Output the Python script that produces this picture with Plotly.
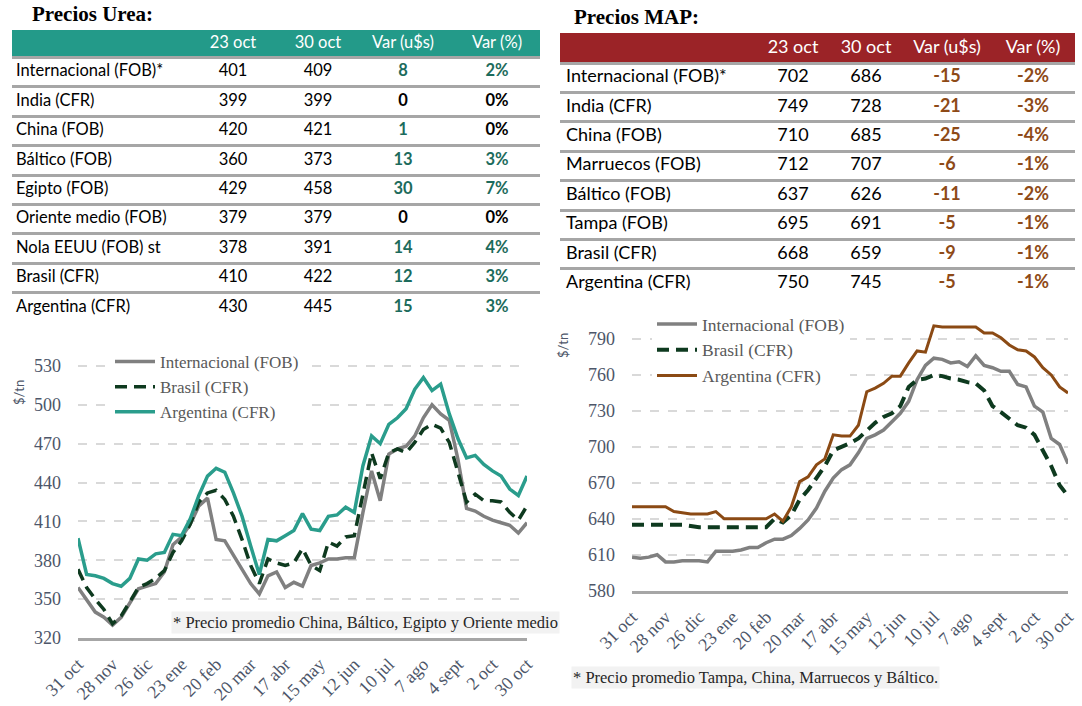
import plotly.graph_objects as go

W, H = 1082, 706

# ---------------- DATA ----------------
cols_hdr = ["23 oct", "30 oct", "Var (u$s)", "Var (%)"]

urea_names = ["Internacional (FOB)*", "India (CFR)", "China (FOB)", "Báltico (FOB)", "Egipto (FOB)",
              "Oriente medio (FOB)", "Nola EEUU (FOB) st", "Brasil (CFR)", "Argentina (CFR)"]
urea_23 = [401, 399, 420, 360, 429, 379, 378, 410, 430]
urea_30 = [409, 399, 421, 373, 458, 379, 391, 422, 445]
urea_var = [8, 0, 1, 13, 30, 0, 14, 12, 15]
urea_pct = [2, 0, 0, 3, 7, 0, 4, 3, 3]

map_names = ["Internacional (FOB)*", "India (CFR)", "China (FOB)", "Marruecos (FOB)", "Báltico (FOB)",
             "Tampa (FOB)", "Brasil (CFR)", "Argentina (CFR)"]
map_23 = [702, 749, 710, 712, 637, 695, 668, 750]
map_30 = [686, 728, 685, 707, 626, 691, 659, 745]
map_var = [-15, -21, -25, -6, -11, -5, -9, -5]
map_pct = [-2, -3, -4, -1, -2, -1, -1, -1]

tick_labels = ["31 oct", "28 nov", "26 dic", "23 ene", "20 feb", "20 mar", "17 abr", "15 may",
               "12 jun", "10 jul", "7 ago", "4 sept", "2 oct", "30 oct"]
weeks = list(range(53))

urea_int = [359, 350, 340, 336, 330, 336, 347, 358, 360, 362, 371, 392, 398, 408, 422, 428,
            396, 395, 384, 373, 362, 354, 368, 371, 359, 363, 360, 376, 378, 381, 381, 382,
            382, 417, 449, 426, 462, 466, 468, 476, 490, 500, 493, 488, 458, 420, 418, 414,
            411, 409, 407, 401, 409]
urea_bra = [373, 359, 350, 342, 331, 337, 348, 359, 362, 366, 372, 386, 395, 408, 425, 432,
            434, 427, 414, 396, 376, 362, 381, 378, 376, 378, 389, 376, 372, 394, 391, 398,
            399, 432, 463, 443, 463, 466, 463, 471, 481, 485, 482, 471, 448, 425, 431, 426,
            426, 425, 417, 411, 422]
urea_arg = [397, 369, 368, 366, 362, 360, 366, 381, 380, 385, 386, 400, 399, 412, 430, 445,
            451, 448, 432, 414, 391, 369, 396, 395, 399, 403, 416, 404, 403, 414, 415, 421,
            417, 453, 476, 470, 485, 490, 497, 512, 521, 511, 516, 493, 474, 459, 461, 454,
            449, 445, 435, 430, 445]

map_int = [608, 607, 608, 610, 604, 604, 605, 605, 605, 604, 613, 613, 613, 614, 616, 616,
           620, 623, 623, 626, 632, 639, 649, 663, 674, 681, 685, 695, 707, 710, 714, 721,
           728, 738, 756, 768, 774, 773, 770, 771, 767, 776, 768, 766, 763, 763, 752, 750,
           734, 729, 707, 702, 686]
map_bra = [635, 635, 635, 635, 635, 635, 635, 634, 633, 633, 633, 633, 633, 633, 633, 633,
           633, 640, 637, 643, 656, 664, 674, 684, 697, 700, 703, 707, 714, 720, 725, 728,
           734, 750, 756, 757, 760, 759, 757, 756, 754, 753, 747, 734, 729, 724, 718, 716,
           710, 697, 684, 668, 659]
map_arg = [650, 650, 650, 650, 650, 646, 645, 644, 644, 644, 646, 640, 640, 640, 640, 640,
           640, 644, 638, 650, 671, 675, 685, 690, 710, 709, 709, 718, 746, 749, 753, 759,
           759, 770, 780, 779, 801, 800, 800, 800, 800, 800, 795, 795, 791, 785, 781, 780,
           775, 766, 760, 750, 745]

# ---------------- STYLE ----------------
TEAL_HDR = "#239A89"
RED_HDR = "#9B2327"
GREEN_TXT = "#1C6B5C"
BROWN_TXT = "#8E4A17"
SEP = "#A6A6A6"
TICK = "#4D5669"
LEG = "#595959"
SERIF = "Liberation Serif"
SANS = "Lato"

GRAY = "#808080"
DKGREEN = "#0E3A1F"
TEAL = "#2A9D8C"
BROWN = "#8B4A14"


def px_x(p):
    return p / W


def px_y(p):
    return 1 - p / H


fig = go.Figure()


# ---------------- TABLES (text traces on their own axes) ----------------
def add_table(names, c23, c30, var, pct, ax, label_x, col_x, hdr_units, var_color, fsize):
    n = len(names)
    rows = [i + 0.5 for i in range(n)]
    black = ["black"] * n
    fig.add_trace(go.Scatter(x=[label_x] * n, y=rows, text=names, mode="text",
                             textposition="middle right", xaxis="x" + ax, yaxis="y" + ax,
                             textfont=dict(family=SANS, size=fsize, color=black),
                             hoverinfo="skip", showlegend=False))
    cols = [
        ([str(v) for v in c23], black),
        ([str(v) for v in c30], black),
        ([f"<b>{v}</b>" for v in var], [var_color if v != 0 else "black" for v in var]),
        ([f"<b>{p}%</b>" for p in pct], [var_color if p != 0 else "black" for p in pct]),
    ]
    for cx, (txt, colr) in zip(col_x, cols):
        fig.add_trace(go.Scatter(x=[cx] * n, y=rows, text=txt, mode="text",
                                 textposition="middle center", xaxis="x" + ax, yaxis="y" + ax,
                                 textfont=dict(family=SANS, size=fsize, color=colr),
                                 hoverinfo="skip", showlegend=False))
    fig.add_trace(go.Scatter(x=col_x, y=[-hdr_units / 2] * len(col_x), text=cols_hdr, mode="text",
                             textposition="middle center", xaxis="x" + ax, yaxis="y" + ax,
                             textfont=dict(family=SANS, size=fsize, color="white"),
                             hoverinfo="skip", showlegend=False))


U_TOP, U_HDR, U_ROW = 30, 27.5, 29.4
M_TOP, M_HDR, M_ROW = 33, 30, 29.4
U_H = U_HDR / U_ROW
M_H = M_HDR / M_ROW
n_u, n_m = len(urea_names), len(map_names)

add_table(urea_names, urea_23, urea_30, urea_var, urea_pct, "3", 4, [221, 306, 391, 485],
          U_H, GREEN_TXT, 16.5)
add_table(map_names, map_23, map_30, map_var, map_pct, "4", 6, [233, 306, 387, 473],
          M_H, BROWN_TXT, 18)


def table_axes(x0, x1, top, hdr_h, row_h, n):
    bottom = top + hdr_h + n * row_h
    xa = dict(domain=[px_x(x0), px_x(x1)], range=[0, x1 - x0], visible=False, fixedrange=True,
              automargin=False)
    ya = dict(domain=[px_y(bottom), px_y(top)], range=[n, -hdr_h / row_h], showgrid=True,
              gridcolor=SEP, gridwidth=2.5, tickvals=list(range(0, n + 1)), showticklabels=False,
              ticks="", zeroline=False, showline=False, fixedrange=True, automargin=False)
    return xa, ya


xa3, ya3 = table_axes(12, 540, U_TOP, U_HDR, U_ROW, n_u)
xa4, ya4 = table_axes(560, 1075, M_TOP, M_HDR, M_ROW, n_m)
xa3["anchor"], ya3["anchor"] = "y3", "x3"
xa4["anchor"], ya4["anchor"] = "y4", "x4"

shapes = [
    dict(type="rect", xref="x3 domain", yref="y3", x0=0, x1=1, y0=-U_H, y1=0,
         fillcolor=TEAL_HDR, line=dict(width=0), layer="below"),
    dict(type="rect", xref="x4 domain", yref="y4", x0=0, x1=1, y0=-M_H, y1=0,
         fillcolor=RED_HDR, line=dict(width=0), layer="below"),
    dict(type="line", xref="x4 domain", yref="y4", x0=0, x1=1, y0=-M_H - 0.04, y1=-M_H - 0.04,
         line=dict(color=SEP, width=2.5), layer="above"),
]

# ---------------- LINES ----------------
fig.add_trace(go.Scatter(x=weeks, y=urea_int, name="Internacional (FOB)", mode="lines",
                         line=dict(color=GRAY, width=3.5), xaxis="x", yaxis="y", legend="legend"))
fig.add_trace(go.Scatter(x=weeks, y=urea_bra, name="Brasil (CFR)", mode="lines",
                         line=dict(color=DKGREEN, width=3.5, dash="12px,7px"), xaxis="x", yaxis="y",
                         legend="legend"))
fig.add_trace(go.Scatter(x=weeks, y=urea_arg, name="Argentina (CFR)", mode="lines",
                         line=dict(color=TEAL, width=3.5), xaxis="x", yaxis="y", legend="legend"))

fig.add_trace(go.Scatter(x=weeks, y=map_int, name="Internacional (FOB)", mode="lines",
                         line=dict(color=GRAY, width=3.5), xaxis="x2", yaxis="y2", legend="legend2"))
fig.add_trace(go.Scatter(x=weeks, y=map_bra, name="Brasil (CFR)", mode="lines",
                         line=dict(color=DKGREEN, width=4, dash="12px,7px"), xaxis="x2", yaxis="y2",
                         legend="legend2"))
fig.add_trace(go.Scatter(x=weeks, y=map_arg, name="Argentina (CFR)", mode="lines",
                         line=dict(color=BROWN, width=3), xaxis="x2", yaxis="y2", legend="legend2"))

tickvals = list(range(0, 53, 4))


def xaxis(domain, anchor):
    return dict(domain=domain, anchor=anchor, range=[0, 52], tickvals=tickvals, ticktext=tick_labels,
                tickangle=-45, tickfont=dict(family=SERIF, size=18, color=TICK), showgrid=False,
                zeroline=False, showline=True, linecolor="#A6A6A6", linewidth=2.5,
                ticklabelstandoff=6, fixedrange=True, automargin=False)


def yaxis(domain, anchor, lo, hi, top):
    return dict(domain=domain, anchor=anchor, range=[lo, top],
                tickvals=list(range(lo, hi + 1, 30)),
                tickfont=dict(family=SERIF, size=18, color=TICK), showgrid=True,
                gridcolor="#D9D9D9", gridwidth=1.5, griddash="dash", zeroline=False,
                showline=False, ticklabelstandoff=16, fixedrange=True, automargin=False)


annotations = [
    dict(text="<b>Precios Urea:</b>", x=px_x(30), y=px_y(14), xref="paper", yref="paper",
         xanchor="left", yanchor="middle", showarrow=False,
         font=dict(family=SERIF, size=21, color="black")),
    dict(text="<b>Precios MAP:</b>", x=px_x(572), y=px_y(17), xref="paper", yref="paper",
         xanchor="left", yanchor="middle", showarrow=False,
         font=dict(family=SERIF, size=21, color="black")),
    dict(text="* Precio promedio China, Báltico, Egipto y Oriente medio", x=px_x(560), y=px_y(622),
         xref="paper", yref="paper", xanchor="right", yanchor="middle", showarrow=False,
         bgcolor="#F2F2F2", font=dict(family=SERIF, size=16.5, color="#262626")),
    dict(text="* Precio promedio Tampa, China, Marruecos y Báltico.", x=px_x(571), y=px_y(677),
         xref="paper", yref="paper", xanchor="left", yanchor="middle", showarrow=False,
         bgcolor="#F2F2F2", font=dict(family=SERIF, size=16.5, color="#262626")),
    dict(text="$/tn", x=px_x(19), y=px_y(393), xref="paper", yref="paper", textangle=-90,
         xanchor="center", yanchor="middle",
         showarrow=False, font=dict(family=SANS, size=13, color=TICK)),
    dict(text="$/tn", x=px_x(563), y=px_y(346), xref="paper", yref="paper", textangle=-90,
         xanchor="center", yanchor="middle",
         showarrow=False, font=dict(family=SANS, size=13, color=TICK)),
]

fig.update_layout(
    width=W, height=H, margin=dict(l=0, r=0, t=0, b=0, autoexpand=False),
    paper_bgcolor="white", plot_bgcolor="white",
    xaxis=xaxis([px_x(78), px_x(527)], "y"),
    yaxis=yaxis([px_y(638), px_y(359.5)], "x", 320, 530, 535),
    xaxis2=xaxis([px_x(632), px_x(1068)], "y2"),
    yaxis2=yaxis([px_y(590.7), px_y(321)], "x2", 580, 790, 805),
    xaxis3=xa3, yaxis3=ya3, xaxis4=xa4, yaxis4=ya4,
    legend=dict(x=px_x(110), y=px_y(344), xanchor="left", yanchor="top", bgcolor="white",
                font=dict(family=SERIF, size=17, color=LEG), tracegroupgap=0, itemwidth=40),
    legend2=dict(x=px_x(652), y=px_y(306), xanchor="left", yanchor="top", bgcolor="white",
                 font=dict(family=SERIF, size=17.5, color=LEG), tracegroupgap=0, itemwidth=40),
    shapes=shapes, annotations=annotations, showlegend=True,
)

fig.write_html("out.html", config={"displayModeBar": False},
               post_script="document.body.style.margin='0px';")
